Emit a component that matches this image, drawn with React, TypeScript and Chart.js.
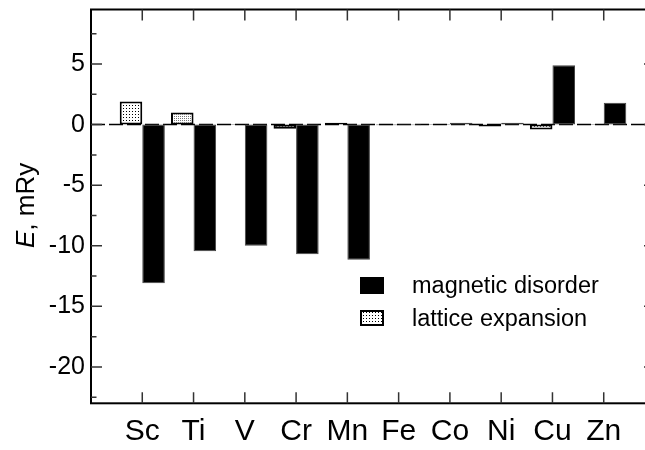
import React, { useEffect, useRef } from 'react';
import { Chart, registerables } from 'chart.js';

Chart.register(...registerables);

const elements = ['Sc', 'Ti', 'V', 'Cr', 'Mn', 'Fe', 'Co', 'Ni', 'Cu', 'Zn'];
const latticeExpansion = [1.9, 1.0, 0.05, -0.35, 0.15, -0.05, 0.05, -0.15, -0.4, 0.05];
const magneticDisorder = [-13.1, -10.45, -10.0, -10.7, -11.15, -0.05, 0.15, 0.15, 4.9, 1.8];
const yMajorTicks = [-20, -15, -10, -5, 0, 5];
const yMinorTicks = [-22.5, -17.5, -12.5, -7.5, -2.5, 2.5, 7.5];
const legendLabels = ['magnetic disorder', 'lattice expansion'];
const yTitleItalic = 'E';
const yTitleRest = ', mRy';

const FONT = '"Liberation Sans", Arial, Helvetica, sans-serif';

function makeDots(step: number, color: string): CanvasPattern | string {
  const c = document.createElement('canvas');
  c.width = step;
  c.height = step;
  const g = c.getContext('2d');
  if (!g) return '#fff';
  g.fillStyle = '#fff';
  g.fillRect(0, 0, step, step);
  g.fillStyle = color;
  g.fillRect(0, 0, 1, 1);
  const p = g.createPattern(c, 'repeat');
  return p || '#fff';
}

export default function App() {
  const ref = useRef<HTMLCanvasElement | null>(null);

  useEffect(() => {
    const canvas = ref.current;
    if (!canvas) return;
    const coarse = makeDots(3, '#000');
    const fine = makeDots(2, '#777');
    const latticeFill = latticeExpansion.map((_, i) => (i === 1 ? fine : coarse));

    const decor = {
      id: 'decor',
      beforeDatasetsDraw(chart: any) {
        const { ctx, chartArea: a, scales } = chart;
        const y0 = scales.y.getPixelForValue(0);
        ctx.save();
        ctx.strokeStyle = '#000';
        ctx.lineWidth = 1.5;
        ctx.setLineDash([14, 4]);
        ctx.beginPath();
        ctx.moveTo(a.left, y0);
        ctx.lineTo(a.right, y0);
        ctx.stroke();
        ctx.restore();
      },
      afterDatasetsDraw(chart: any) {
        const { ctx, chartArea: a, scales } = chart;
        ctx.save();
        ctx.strokeStyle = '#000';
        ctx.lineWidth = 2;
        ctx.strokeRect(a.left, a.top, a.right - a.left, a.bottom - a.top);
        ctx.lineWidth = 1.5;
        ctx.strokeStyle = '#333';
        ctx.beginPath();
        elements.forEach((_, i) => {
          const x = scales.x.getPixelForValue(i + 1);
          ctx.moveTo(x, a.top);
          ctx.lineTo(x, a.top + 11);
          ctx.moveTo(x, a.bottom);
          ctx.lineTo(x, a.bottom - 11);
        });
        yMajorTicks.forEach((v) => {
          const y = scales.y.getPixelForValue(v);
          ctx.moveTo(a.left, y);
          ctx.lineTo(a.left + 11, y);
          ctx.moveTo(a.right, y);
          ctx.lineTo(a.right - 11, y);
        });
        yMinorTicks.forEach((v) => {
          const y = scales.y.getPixelForValue(v);
          ctx.moveTo(a.left, y);
          ctx.lineTo(a.left + 5.5, y);
          ctx.moveTo(a.right, y);
          ctx.lineTo(a.right - 5.5, y);
        });
        ctx.stroke();
        ctx.restore();
      },
      afterDraw(chart: any) {
        const { ctx, chartArea: a } = chart;
        ctx.save();
        // legend
        ctx.fillStyle = '#000';
        ctx.fillRect(360, 277, 24, 17);
        ctx.fillStyle = coarse as any;
        ctx.fillRect(360, 310, 24, 16);
        ctx.strokeStyle = '#000';
        ctx.lineWidth = 2;
        ctx.strokeRect(361, 311, 22, 14);
        ctx.fillStyle = '#000';
        ctx.font = `23.5px ${FONT}`;
        ctx.textBaseline = 'alphabetic';
        ctx.textAlign = 'left';
        ctx.fillText(legendLabels[0], 412, 293);
        ctx.fillText(legendLabels[1], 412, 326);
        // y title
        const cy = (a.top + a.bottom) / 2 - 1;
        ctx.translate(33.5, cy);
        ctx.rotate(-Math.PI / 2);
        ctx.font = `italic 26px ${FONT}`;
        const w1 = ctx.measureText(yTitleItalic).width;
        ctx.font = `26px ${FONT}`;
        const w2 = ctx.measureText(yTitleRest).width;
        const start = -(w1 + w2) / 2;
        ctx.font = `italic 26px ${FONT}`;
        ctx.fillText(yTitleItalic, start, 0);
        ctx.font = `26px ${FONT}`;
        ctx.fillText(yTitleRest, start + w1, 0);
        ctx.restore();
      },
    };

    const chart = new Chart(canvas, {
      type: 'bar',
      data: {
        datasets: [
          {
            label: legendLabels[1],
            data: latticeExpansion.map((v, i) => ({ x: i + 1, y: v })),
            backgroundColor: latticeFill as any,
            borderColor: '#000',
            borderWidth: 2,
            borderSkipped: false,
            categoryPercentage: 0.88,
            barPercentage: 1,
          },
          {
            label: legendLabels[0],
            data: magneticDisorder.map((v, i) => ({ x: i + 1, y: v })),
            backgroundColor: '#000',
            borderColor: '#444',
            borderWidth: 1,
            borderSkipped: false,
            categoryPercentage: 0.88,
            barPercentage: 1,
          },
        ] as any,
      },
      options: {
        animation: false,
        responsive: false,
        devicePixelRatio: 1,
        layout: { padding: { top: 9.5, right: 5, left: 0, bottom: 0 } },
        plugins: { legend: { display: false }, tooltip: { enabled: false } },
        scales: {
          x: {
            type: 'linear',
            min: 0,
            max: 11,
            offset: false,
            grid: { display: false, drawTicks: false },
            border: { display: false },
            afterBuildTicks: (s: any) => {
              s.ticks = elements.map((_, i) => ({ value: i + 1 }));
            },
            afterFit: (s: any) => {
              s.height = 46.7;
              s.paddingLeft = 0;
              s.paddingRight = 0;
              s.paddingTop = 0;
              s.paddingBottom = 0;
            },
            ticks: {
              autoSkip: false,
              maxRotation: 0,
              minRotation: 0,
              padding: 10,
              color: '#000',
              font: { family: FONT, size: 30 },
              callback: (v: any) => elements[Number(v) - 1] ?? '',
            },
          },
          y: {
            type: 'linear',
            min: -23,
            max: 9.5,
            grid: { display: false, drawTicks: false },
            border: { display: false },
            afterBuildTicks: (s: any) => {
              s.ticks = yMajorTicks.map((v) => ({ value: v }));
            },
            afterFit: (s: any) => {
              s.width = 91;
              s.paddingLeft = 0;
              s.paddingRight = 0;
              s.paddingTop = 0;
              s.paddingBottom = 0;
            },
            ticks: {
              padding: 6,
              color: '#000',
              font: { family: FONT, size: 25 },
              callback: (v: any) => String(v),
            },
          },
        },
      } as any,
      plugins: [decor],
    });
    return () => chart.destroy();
  }, []);

  return (
    <div
      style={{
        position: 'fixed',
        left: 0,
        top: 0,
        width: 645,
        height: 450,
        overflow: 'hidden',
        background: '#fff',
      }}
    >
      <canvas ref={ref} width={660} height={450} style={{ display: 'block' }} />
    </div>
  );
}
